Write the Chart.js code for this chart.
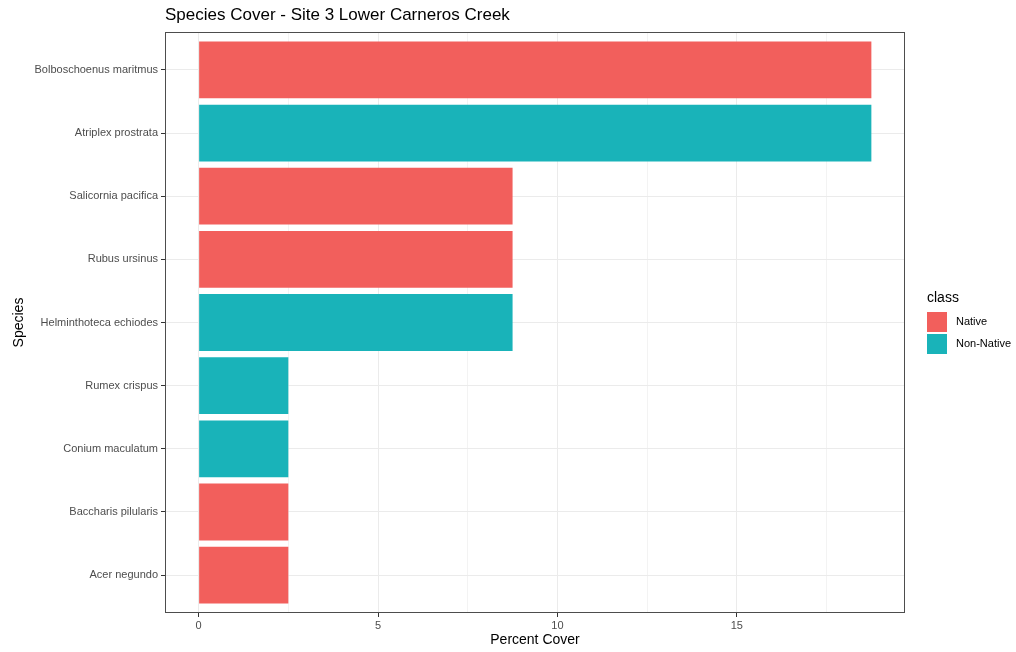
<!DOCTYPE html>
<html lang="en">
  <head>
    <meta charset="UTF-8" />
    <title>Species Cover - Site 3 Lower Carneros Creek</title>
    <style>
      html, body {
        margin: 0;
        padding: 0;
        background: #fff;
      }
      #wrap {
        width: 1016px;
        height: 652px;
      }
    </style>
  </head>
  <body>
    <div id="wrap"><canvas id="coverChart" width="1016" height="652"></canvas></div>

    <script src="https://cdn.jsdelivr.net/npm/chart.js"></script>
    <script>
      // top to bottom, as in the plot
      const species = [
        "Bolboschoenus maritmus",
        "Atriplex prostrata",
        "Salicornia pacifica",
        "Rubus ursinus",
        "Helminthoteca echiodes",
        "Rumex crispus",
        "Conium maculatum",
        "Baccharis pilularis",
        "Acer negundo",
      ];
      const cover = [18.75, 18.75, 8.75, 8.75, 8.75, 2.5, 2.5, 2.5, 2.5];
      const cls = ["Native", "Non-Native", "Native", "Native", "Non-Native", "Non-Native", "Non-Native", "Native", "Native"];
      const xTicks = [0, 5, 10, 15];

      const classNames = ["Native", "Non-Native"];
      const classColors = { Native: "#F25F5C", "Non-Native": "#19B3B9" };

      const FONT = "'Liberation Sans', Arial, Helvetica, sans-serif";
      const PANEL = { left: 165, right: 905, top: 32, bottom: 613 };

      // title, axis titles, legend and panel border, placed like ggplot
      const decor = {
        id: "decor",
        afterDraw(chart) {
          const ctx = chart.ctx;
          const a = chart.chartArea;
          ctx.save();
          ctx.strokeStyle = "#4D4D4D";
          ctx.lineWidth = 1;
          ctx.strokeRect(a.left + 0.5, a.top + 0.5, a.right - a.left - 1, a.bottom - a.top - 1);

          ctx.fillStyle = "#000";
          ctx.font = "17px " + FONT;
          ctx.textAlign = "left";
          ctx.textBaseline = "middle";
          ctx.fillText("Species Cover - Site 3 Lower Carneros Creek", a.left, 15);

          ctx.font = "14px " + FONT;
          ctx.textAlign = "center";
          ctx.fillText("Percent Cover", (a.left + a.right) / 2, 640);

          ctx.save();
          ctx.translate(19, (a.top + a.bottom) / 2);
          ctx.rotate(-Math.PI / 2);
          ctx.fillText("Species", 0, 0);
          ctx.restore();

          // legend
          ctx.textAlign = "left";
          ctx.font = "14px " + FONT;
          ctx.fillText("class", 927, 298);
          ctx.font = "11px " + FONT;
          classNames.forEach((name, i) => {
            const y = 312 + i * 22;
            ctx.fillStyle = classColors[name];
            ctx.fillRect(927, y, 20, 20);
            ctx.fillStyle = "#000";
            ctx.fillText(name, 956, y + 10);
          });
          ctx.restore();
        },
      };

      const ctx = document.getElementById("coverChart").getContext("2d");
      new Chart(ctx, {
        type: "bar",
        data: {
          datasets: [
            {
              data: cover.map((v, i) => ({ x: v, y: i })),
              backgroundColor: cls.map((c) => classColors[c]),
              borderWidth: 0,
              barPercentage: 0.9,
              categoryPercentage: 1,
            },
          ],
        },
        options: {
          indexAxis: "y",
          responsive: false,
          animation: false,
          layout: {
            padding: { top: PANEL.top, right: 1016 - PANEL.right, bottom: 0, left: 0 },
          },
          plugins: {
            legend: { display: false },
            tooltip: { enabled: false },
            title: { display: false },
          },
          scales: {
            x: {
              type: "linear",
              min: -0.9375,
              max: 19.6875,
              afterFit: (s) => { s.height = 652 - PANEL.bottom; },
              border: { display: false },
              ticks: {
                stepSize: 2.5,
                includeBounds: false,
                autoSkip: false,
                maxRotation: 0,
                padding: 2,
                color: "#4D4D4D",
                font: { family: FONT, size: 11 },
                callback: (v) => (xTicks.includes(v) ? String(v) : ""),
              },
              grid: {
                color: (c) => (c.tick && xTicks.includes(c.tick.value) ? "#EBEBEB" : "#F3F3F3"),
                tickColor: (c) => (c.tick && xTicks.includes(c.tick.value) ? "#333333" : "rgba(0,0,0,0)"),
                tickLength: 4,
                lineWidth: 1,
              },
            },
            y: {
              type: "linear",
              min: -0.6,
              max: 8.6,
              reverse: true,
              offset: false,
              afterFit: (s) => { s.width = PANEL.left; },
              border: { display: false },
              ticks: {
                stepSize: 1,
                includeBounds: false,
                autoSkip: false,
                padding: 3,
                color: "#4D4D4D",
                font: { family: FONT, size: 11 },
                callback: (v) => species[v] || "",
              },
              grid: {
                offset: false,
                color: "#EBEBEB",
                tickColor: "#333333",
                tickLength: 4,
                lineWidth: 1,
              },
            },
          },
        },
        plugins: [decor],
      });
    </script>
  </body>
</html>
